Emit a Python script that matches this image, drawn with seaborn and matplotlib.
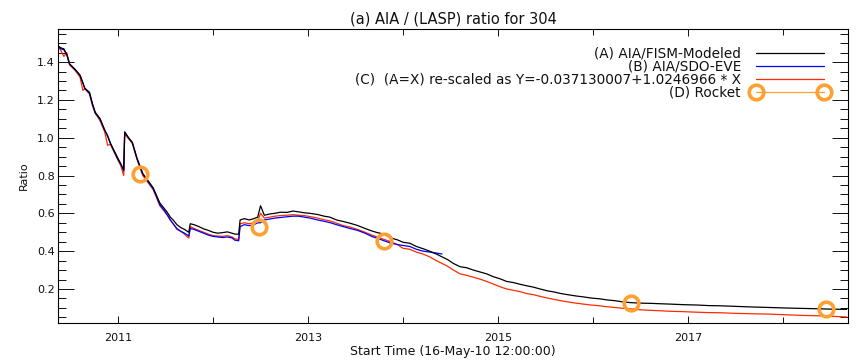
import numpy as np
import pandas as pd
import matplotlib
matplotlib.use("Agg")
import matplotlib.pyplot as plt
import seaborn as sns
from matplotlib.lines import Line2D
from matplotlib.ticker import MultipleLocator, FixedLocator

# ---------------- data (decimal years) ----------------
t_main = [2010.37, 2010.40, 2010.43, 2010.46, 2010.49, 2010.55, 2010.60, 2010.63, 2010.65, 2010.70,
          2010.73, 2010.76, 2010.81, 2010.86, 2010.89, 2010.92, 2010.99, 2011.03, 2011.06, 2011.07,
          2011.11, 2011.15, 2011.20, 2011.26, 2011.32, 2011.37, 2011.40, 2011.44, 2011.48, 2011.52,
          2011.55, 2011.58, 2011.62, 2011.66, 2011.70, 2011.73, 2011.745, 2011.76, 2011.80, 2011.85,
          2011.90, 2011.95, 2012.00, 2012.05, 2012.10, 2012.15, 2012.20, 2012.23, 2012.27, 2012.285,
          2012.33, 2012.38, 2012.43, 2012.47, 2012.50, 2012.54, 2012.60, 2012.65, 2012.71, 2012.78,
          2012.84, 2012.90, 2012.96, 2013.02, 2013.10, 2013.17, 2013.23, 2013.30, 2013.37, 2013.44,
          2013.52, 2013.60, 2013.67, 2013.73, 2013.80, 2013.87, 2013.94, 2014.00, 2014.07, 2014.14,
          2014.21, 2014.28, 2014.35, 2014.41,
          2014.47, 2014.53, 2014.60, 2014.67, 2014.74, 2014.81, 2014.88, 2014.95, 2015.02, 2015.09,
          2015.16, 2015.23, 2015.30, 2015.37, 2015.45, 2015.52, 2015.59, 2015.66, 2015.73, 2015.82,
          2015.90, 2015.98, 2016.07, 2016.15, 2016.23, 2016.31, 2016.39, 2016.50, 2016.60, 2016.70,
          2016.81, 2016.95, 2017.10, 2017.22, 2017.34, 2017.50, 2017.66, 2017.86, 2018.05, 2018.22,
          2018.39, 2018.53, 2018.67]

# (A) AIA/FISM-Modeled
ratio_fism = [1.485, 1.475, 1.470, 1.440, 1.390, 1.360, 1.330, 1.290, 1.262, 1.240,
              1.180, 1.135, 1.100, 1.040, 1.010, 0.970, 0.900, 0.860, 0.830, 1.030,
              1.000, 0.975, 0.890, 0.810, 0.770, 0.735, 0.700, 0.655, 0.630, 0.604,
              0.580, 0.565, 0.540, 0.525, 0.515, 0.505, 0.500, 0.545, 0.540, 0.530,
              0.518, 0.510, 0.500, 0.495, 0.498, 0.502, 0.495, 0.490, 0.490, 0.565,
              0.572, 0.565, 0.572, 0.580, 0.640, 0.590, 0.597, 0.600, 0.606, 0.605,
              0.612, 0.608, 0.603, 0.600, 0.594, 0.585, 0.580, 0.565, 0.557, 0.548,
              0.536, 0.520, 0.507, 0.498, 0.490, 0.470, 0.460, 0.447, 0.442, 0.425,
              0.413, 0.400, 0.385, 0.370,
              0.355, 0.335, 0.318, 0.312, 0.300, 0.290, 0.280, 0.265, 0.254, 0.240,
              0.234, 0.225, 0.217, 0.210, 0.199, 0.190, 0.184, 0.176, 0.170, 0.163,
              0.158, 0.152, 0.148, 0.142, 0.138, 0.132, 0.128, 0.125, 0.124, 0.122,
              0.120, 0.117, 0.115, 0.112, 0.111, 0.108, 0.105, 0.102, 0.099, 0.097,
              0.095, 0.093, 0.092]

# (C) re-scaled
ratio_rescaled = [1.480, 1.460, 1.430, 1.450, 1.385, 1.355, 1.320, 1.250, 1.260, 1.230,
                  1.170, 1.130, 1.090, 1.030, 0.960, 0.965, 0.890, 0.850, 0.800, 1.020,
                  0.995, 0.970, 0.885, 0.800, 0.760, 0.725, 0.690, 0.640, 0.615, 0.590,
                  0.565, 0.545, 0.515, 0.505, 0.490, 0.475, 0.470, 0.530, 0.520, 0.510,
                  0.500, 0.490, 0.482, 0.480, 0.478, 0.482, 0.475, 0.465, 0.462, 0.545,
                  0.550, 0.545, 0.550, 0.560, 0.600, 0.575, 0.580, 0.585, 0.588, 0.590,
                  0.593, 0.590, 0.588, 0.583, 0.575, 0.566, 0.560, 0.548, 0.535, 0.528,
                  0.515, 0.500, 0.485, 0.475, 0.462, 0.450, 0.435, 0.415, 0.410, 0.395,
                  0.385, 0.370, 0.350, 0.335,
                  0.320, 0.300, 0.280, 0.272, 0.262, 0.252, 0.240, 0.226, 0.212, 0.200,
                  0.193, 0.186, 0.176, 0.170, 0.160, 0.152, 0.145, 0.138, 0.132, 0.125,
                  0.120, 0.115, 0.111, 0.106, 0.102, 0.098, 0.095, 0.090, 0.087, 0.085,
                  0.082, 0.080, 0.077, 0.075, 0.074, 0.071, 0.069, 0.067, 0.063, 0.060,
                  0.058, 0.055, 0.052]

# (B) AIA/SDO-EVE (ends mid 2014)
t_eve = t_main[:84]
ratio_eve = [1.480, 1.470, 1.465, 1.440, 1.390, 1.360, 1.330, 1.290, 1.260, 1.235,
             1.180, 1.130, 1.100, 1.040, 1.010, 0.970, 0.895, 0.860, 0.825, 1.030,
             1.000, 0.975, 0.890, 0.810, 0.765, 0.730, 0.695, 0.645, 0.620, 0.590,
             0.565, 0.545, 0.520, 0.505, 0.495, 0.485, 0.480, 0.520, 0.515, 0.505,
             0.495, 0.485, 0.478, 0.475, 0.472, 0.475, 0.470, 0.458, 0.455, 0.530,
             0.540, 0.535, 0.540, 0.550, 0.550, 0.565, 0.570, 0.575, 0.578, 0.582,
             0.585, 0.585, 0.580, 0.575, 0.565, 0.558, 0.551, 0.540, 0.530, 0.520,
             0.510, 0.495, 0.478, 0.468, 0.455, 0.443, 0.435, 0.430, 0.425, 0.410,
             0.400, 0.395, 0.390, 0.385]

# (D) Rocket
t_rocket = [2011.23, 2012.48, 2013.80, 2016.40, 2018.45]
ratio_rocket = [0.81, 0.53, 0.455, 0.127, 0.095]

title = "(a) AIA / (LASP) ratio for 304"
labels = ["(A) AIA/FISM-Modeled", "(B) AIA/SDO-EVE",
          "(C)  (A=X) re-scaled as Y=-0.037130007+1.0246966 * X", "(D) Rocket"]
xlabel = "Start Time (16-May-10 12:00:00)"
ylabel = "Ratio"
year_ticks = [2011, 2013, 2015, 2017]
minor_years = [2012, 2014, 2016, 2018]

# ---------------- style ----------------
sns.set_theme(style="white")
plt.rcParams['font.family'] = ['DejaVu Sans']
plt.rcParams['text.color'] = '#111111'
plt.rcParams['axes.labelcolor'] = '#111111'
plt.rcParams['xtick.color'] = '#111111'
plt.rcParams['ytick.color'] = '#111111'

c_black = "#000000"
c_blue = "#0000ff"
c_red = "#ff2a00"
c_orange = "#ffa030"

fig = plt.figure(figsize=(8.56, 3.61), dpi=100)
ax = fig.add_axes([58/856, 1-323/361, 790/856, 294/361])

df_a = pd.DataFrame({"t": t_main, "v": ratio_fism})
df_c = pd.DataFrame({"t": t_main, "v": ratio_rescaled})
df_b = pd.DataFrame({"t": t_eve, "v": ratio_eve})
df_d = pd.DataFrame({"t": t_rocket, "v": ratio_rocket})

sns.lineplot(data=df_c, x="t", y="v", ax=ax, color=c_red, lw=0.9, sort=False, estimator=None)
sns.lineplot(data=df_b, x="t", y="v", ax=ax, color=c_blue, lw=0.9, sort=False, estimator=None)
sns.lineplot(data=df_a, x="t", y="v", ax=ax, color=c_black, lw=0.9, sort=False, estimator=None)
sns.lineplot(data=df_d, x="t", y="v", ax=ax, linestyle="", marker="o", markersize=10.5,
             markerfacecolor="none", markeredgecolor=c_orange, markeredgewidth=2.6,
             sort=False, estimator=None)

ax.set_xlim(2010.368, 2018.684)
ax.set_ylim(0.02, 1.575)

ax.xaxis.set_major_locator(FixedLocator(year_ticks))
ax.xaxis.set_minor_locator(FixedLocator(minor_years))
ax.set_xticklabels([str(y) for y in year_ticks])
ax.yaxis.set_major_locator(MultipleLocator(0.2))
ax.yaxis.set_minor_locator(MultipleLocator(0.05))
ax.set_yticks([0.2, 0.4, 0.6, 0.8, 1.0, 1.2, 1.4])
ax.set_yticklabels(["0.2", "0.4", "0.6", "0.8", "1.0", "1.2", "1.4"])

ax.tick_params(axis="x", which="major", direction="in", length=5, width=0.7,
               top=True, bottom=True, labelsize=8, pad=7)
ax.tick_params(axis="x", which="minor", direction="in", length=4, width=0.7,
               top=True, bottom=True)
ax.tick_params(axis="y", which="major", direction="in", length=11.3, width=0.7,
               left=True, right=True, labelsize=8, pad=2.5)
ax.tick_params(axis="y", which="minor", direction="in", length=5.7, width=0.7,
               left=True, right=True)

for s in ax.spines.values():
    s.set_color("black")
    s.set_linewidth(0.8)

ax.set_title(title, fontsize=10.5, pad=4)
ax.set_xlabel(xlabel, fontsize=9, labelpad=2)
ax.set_ylabel(ylabel, fontsize=8, labelpad=6)

handles = [Line2D([], [], color=c_black, lw=0.9),
           Line2D([], [], color=c_blue, lw=0.9),
           Line2D([], [], color=c_red, lw=0.9),
           Line2D([], [], color=c_orange, lw=0.9, marker="o", markersize=10.5,
                  markerfacecolor="none", markeredgecolor=c_orange, markeredgewidth=2.6)]
leg = ax.legend(handles, labels, loc="upper right", bbox_to_anchor=(0.9747, 0.94),
                frameon=False, markerfirst=False, numpoints=2, handlelength=5.6,
                handletextpad=0.8, labelspacing=-0.08, borderpad=0, borderaxespad=0,
                fontsize=9.8)

fig.savefig("out.png", dpi=100)
